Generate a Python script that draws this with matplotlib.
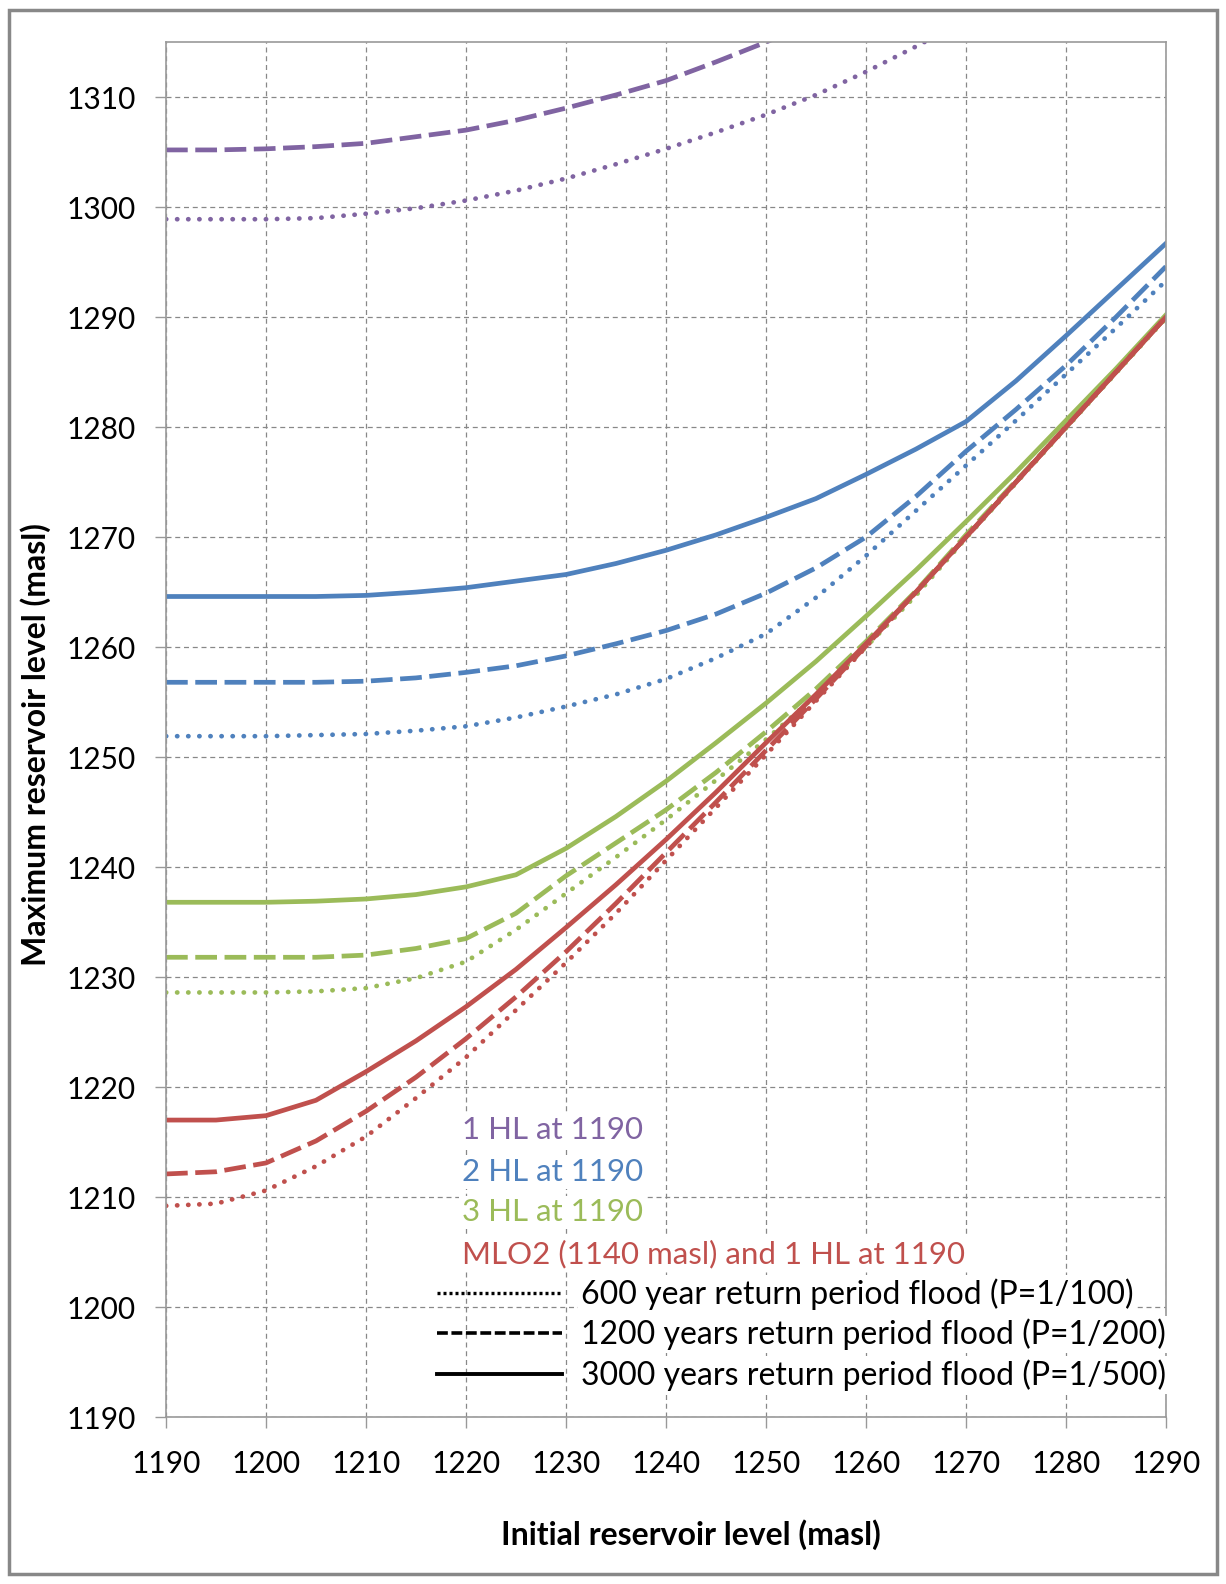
import numpy as np
import matplotlib.pyplot as plt
from matplotlib.lines import Line2D
from matplotlib.patches import Rectangle

plt.rcParams['font.family'] = ['Lato', 'DejaVu Sans']

# initial reservoir level (masl)
x_init = [1190, 1195, 1200, 1205, 1210, 1215, 1220, 1225, 1230, 1235, 1240,
          1245, 1250, 1255, 1260, 1265, 1270, 1275, 1280, 1285, 1290]

# 1 HL at 1190
hl1_600 = [1298.9, 1298.9, 1298.9, 1299.0, 1299.4, 1299.9, 1300.6, 1301.5, 1302.6, 1303.9, 1305.3,
           1306.8, 1308.4, 1310.2, 1312.3, 1314.6, 1317.0, 1319.5, 1322.0, 1324.6, 1327.2]
hl1_1200 = [1305.2, 1305.2, 1305.3, 1305.5, 1305.8, 1306.4, 1307.0, 1307.9, 1309.0, 1310.2, 1311.5,
            1313.2, 1315.0, 1317.0, 1319.0, 1321.2, 1323.4, 1325.7, 1328.0, 1330.4, 1332.8]

# 2 HL at 1190
hl2_600 = [1251.9, 1251.9, 1251.9, 1252.0, 1252.1, 1252.4, 1252.8, 1253.6, 1254.6, 1255.7, 1257.1,
           1259.0, 1261.2, 1264.5, 1268.3, 1272.4, 1276.5, 1280.6, 1284.8, 1289.0, 1293.3]
hl2_1200 = [1256.8, 1256.8, 1256.8, 1256.8, 1256.9, 1257.2, 1257.7, 1258.3, 1259.2, 1260.3, 1261.5,
            1263.0, 1264.9, 1267.2, 1270.0, 1273.7, 1277.8, 1281.6, 1285.6, 1290.0, 1294.6]
hl2_3000 = [1264.6, 1264.6, 1264.6, 1264.6, 1264.7, 1265.0, 1265.4, 1266.0, 1266.6, 1267.6, 1268.8,
            1270.2, 1271.8, 1273.5, 1275.7, 1278.0, 1280.5, 1284.2, 1288.3, 1292.5, 1296.7]

# 3 HL at 1190
hl3_600 = [1228.6, 1228.6, 1228.6, 1228.7, 1229.0, 1229.9, 1231.4, 1234.3, 1237.6, 1240.9, 1244.3,
           1247.9, 1251.6, 1255.6, 1260.0, 1264.7, 1269.9, 1274.9, 1279.9, 1284.9, 1289.9]
hl3_1200 = [1231.8, 1231.8, 1231.8, 1231.8, 1232.0, 1232.6, 1233.5, 1235.8, 1239.2, 1242.2, 1245.2,
            1248.6, 1252.3, 1256.2, 1260.5, 1265.1, 1270.2, 1275.1, 1280.0, 1285.0, 1290.0]
hl3_3000 = [1236.8, 1236.8, 1236.8, 1236.9, 1237.1, 1237.5, 1238.2, 1239.3, 1241.7, 1244.6, 1247.8,
            1251.3, 1254.9, 1258.7, 1262.8, 1267.0, 1271.4, 1275.9, 1280.6, 1285.3, 1290.2]

# MLO2 (1140 masl) and 1 HL at 1190
mlo_600 = [1209.2, 1209.4, 1210.6, 1212.8, 1215.5, 1219.0, 1222.7, 1227.0, 1231.3, 1235.8, 1240.6,
           1245.4, 1250.2, 1255.1, 1260.0, 1265.0, 1270.0, 1275.0, 1280.0, 1285.0, 1290.0]
mlo_1200 = [1212.1, 1212.3, 1213.1, 1215.1, 1217.8, 1220.9, 1224.4, 1228.2, 1232.3, 1236.7, 1241.3,
            1245.9, 1250.6, 1255.3, 1260.1, 1265.0, 1270.0, 1275.0, 1280.0, 1285.0, 1290.0]
mlo_3000 = [1217.0, 1217.0, 1217.4, 1218.8, 1221.4, 1224.2, 1227.3, 1230.7, 1234.5, 1238.4, 1242.5,
            1246.8, 1251.3, 1255.7, 1260.3, 1265.0, 1270.0, 1275.0, 1280.0, 1285.0, 1290.0]

group_labels = ['1 HL at 1190', '2 HL at 1190', '3 HL at 1190', 'MLO2 (1140 masl) and 1 HL at 1190']
flood_labels = ['600 year return period flood (P=1/100)',
                '1200 years return period flood (P=1/200)',
                '3000 years return period flood (P=1/500)']

purple = '#8064A2'
blue = '#4F81BD'
green = '#9BBB59'
red = '#C0504D'

fig = plt.figure(figsize=(12.26, 15.84), dpi=100)
ax = fig.add_axes([0.1354, 0.1054, 0.8156, 0.868])

lw = 3.4
dot = (0, (0.05, 2.3))
dash = (0, (4.6, 1.6))

ax.plot(x_init, hl1_600, color=purple, lw=lw, ls=dot, dash_capstyle='round')
ax.plot(x_init, hl1_1200, color=purple, lw=lw, ls=dash)
ax.plot(x_init, hl2_600, color=blue, lw=lw, ls=dot, dash_capstyle='round')
ax.plot(x_init, hl2_1200, color=blue, lw=lw, ls=dash)
ax.plot(x_init, hl2_3000, color=blue, lw=lw)
ax.plot(x_init, hl3_600, color=green, lw=lw, ls=dot, dash_capstyle='round')
ax.plot(x_init, hl3_1200, color=green, lw=lw, ls=dash)
ax.plot(x_init, hl3_3000, color=green, lw=lw)
ax.plot(x_init, mlo_600, color=red, lw=lw, ls=dot, dash_capstyle='round')
ax.plot(x_init, mlo_1200, color=red, lw=lw, ls=dash)
ax.plot(x_init, mlo_3000, color=red, lw=lw)

ax.set_xlim(1190, 1290)
ax.set_ylim(1190, 1315)
ax.set_xticks(np.arange(1190, 1291, 10))
ax.set_yticks(np.arange(1190, 1311, 10))
ax.grid(True, color='#888888', ls=(0, (4, 3)), lw=0.9)
ax.set_axisbelow(True)
for s in ax.spines.values():
    s.set_color('#999999')
    s.set_linewidth(1.2)
ax.tick_params(axis='both', labelsize=21.5, color='#999999', length=8, width=1.0)
ax.tick_params(axis='x', pad=16)
ax.tick_params(axis='y', pad=14)

ax.set_xlabel('Initial reservoir level (masl)', fontsize=23, fontweight='bold')
ax.set_ylabel('Maximum reservoir level (masl)', fontsize=23, fontweight='bold')
ax.xaxis.set_label_coords(0.525, -0.074)
ax.yaxis.set_label_coords(-0.115, 0.489)

# coloured group labels
group_colors = [purple, blue, green, red]
group_y = [1216.1, 1212.3, 1208.6, 1204.8]
for lab, c, yy in zip(group_labels, group_colors, group_y):
    ax.text(1219.6, yy, lab, color=c, fontsize=22.5, va='center', ha='left',
            bbox=dict(facecolor='white', edgecolor='none', pad=2))

handles = [Line2D([], [], color='black', lw=2.4, ls=(0, (0.9, 0.9))),
           Line2D([], [], color='black', lw=2.6, ls=(0, (3, 1.0))),
           Line2D([], [], color='black', lw=2.8)]
leg = ax.legend(handles, flood_labels, loc='lower right', bbox_to_anchor=(1.0, 0.019),
                frameon=False, fontsize=23, handlelength=3.9, handletextpad=0.6,
                labelspacing=0.28, borderaxespad=0.0, borderpad=0.0)
for t in leg.get_texts():
    t.set_bbox(dict(facecolor='white', edgecolor='none', pad=2))

# outer frame
fig.patches.append(Rectangle((0.007, 0.006), 0.986, 0.988, transform=fig.transFigure,
                             fill=False, edgecolor='#888888', lw=2.5))

fig.savefig('out.png', dpi=100)
